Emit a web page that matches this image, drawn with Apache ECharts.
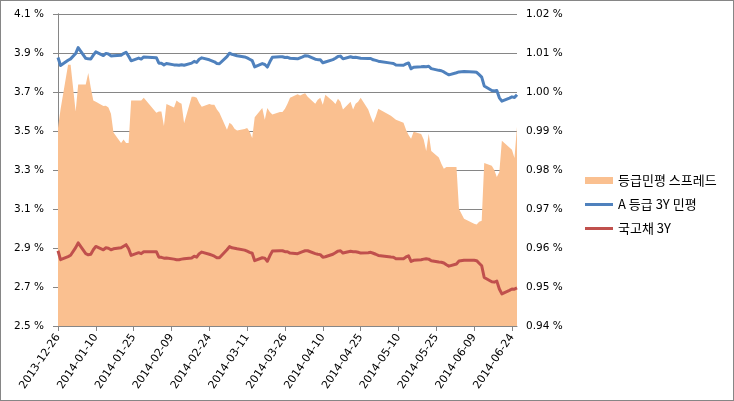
<!DOCTYPE html>
<html><head><meta charset="utf-8">
<script src="https://cdn.jsdelivr.net/npm/echarts@6/dist/echarts.min.js"></script>
<style>
html,body{margin:0;padding:0;background:#fff}
#c{position:absolute;left:0;top:0;width:734px;height:401px}
#b{position:absolute;left:0;top:0;width:734px;height:401px;box-sizing:border-box;border:1px solid #868686;pointer-events:none}
</style>
</head><body><div id="c"></div><div id="b"></div>
<script>
const dates = [
'2013-12-26','2013-12-27','2013-12-30','2013-12-31',
'2014-01-02','2014-01-03','2014-01-06','2014-01-07','2014-01-08','2014-01-09','2014-01-10','2014-01-13','2014-01-14','2014-01-15','2014-01-16','2014-01-17','2014-01-20','2014-01-21','2014-01-22','2014-01-23','2014-01-24','2014-01-27','2014-01-28','2014-01-29',
'2014-02-03','2014-02-04','2014-02-05','2014-02-06','2014-02-07','2014-02-10','2014-02-11','2014-02-12','2014-02-13','2014-02-14','2014-02-17','2014-02-18','2014-02-19','2014-02-20','2014-02-21','2014-02-24','2014-02-25','2014-02-26','2014-02-27','2014-02-28',
'2014-03-03','2014-03-04','2014-03-05','2014-03-06','2014-03-07','2014-03-10','2014-03-11','2014-03-12','2014-03-13','2014-03-14','2014-03-17','2014-03-18','2014-03-19','2014-03-20','2014-03-21','2014-03-24','2014-03-25','2014-03-26','2014-03-27','2014-03-28','2014-03-31',
'2014-04-01','2014-04-02','2014-04-03','2014-04-04','2014-04-07','2014-04-08','2014-04-09','2014-04-10','2014-04-11','2014-04-14','2014-04-15','2014-04-16','2014-04-17','2014-04-18','2014-04-21','2014-04-22','2014-04-23','2014-04-24','2014-04-25','2014-04-28','2014-04-29','2014-04-30',
'2014-05-01','2014-05-02','2014-05-07','2014-05-08','2014-05-09','2014-05-12','2014-05-13','2014-05-14','2014-05-15','2014-05-16','2014-05-19','2014-05-20','2014-05-21','2014-05-22','2014-05-23','2014-05-26','2014-05-27','2014-05-28','2014-05-29','2014-05-30',
'2014-06-02','2014-06-03','2014-06-05','2014-06-09','2014-06-10','2014-06-11','2014-06-12','2014-06-13','2014-06-16','2014-06-17','2014-06-18','2014-06-19','2014-06-20','2014-06-23','2014-06-24','2014-06-25','2014-06-26'
];
// 등급민평 스프레드 (right axis, %)
const spread = [
0.9908,0.9955,1.0070,1.0070,
0.9950,1.0019,1.0019,1.0049,1.0011,0.9978,0.9975,0.9964,0.9965,0.9960,0.9944,0.9896,0.9869,0.9878,0.9869,0.9869,0.9978,0.9978,0.9978,0.9985,
0.9947,0.9950,0.9950,0.9913,0.9969,0.9960,0.9978,0.9973,0.9970,0.9920,0.9988,0.9988,0.9985,0.9972,0.9962,0.9969,0.9967,0.9967,0.9955,0.9947,
0.9903,0.9921,0.9916,0.9906,0.9901,0.9905,0.9908,0.9898,0.9882,0.9935,0.9959,0.9929,0.9959,0.9949,0.9942,0.9949,0.9949,0.9957,0.9970,0.9985,0.9994,
0.9991,0.9994,0.9997,0.9988,0.9970,0.9980,0.9985,0.9967,0.9993,0.9976,0.9969,0.9983,0.9975,0.9955,0.9975,0.9955,0.9970,0.9975,0.9985,0.9955,0.9937,0.9921,
0.9937,0.9957,0.9939,0.9934,0.9929,0.9921,0.9903,0.9890,0.9880,0.9898,0.9892,0.9878,0.9849,0.9893,0.9849,0.9832,0.9816,0.9803,0.9808,0.9808,
0.9808,0.9700,0.9675,0.9662,0.9660,0.9667,0.9670,0.9818,0.9811,0.9800,0.9782,0.9795,0.9875,0.9858,0.9852,0.9831,0.9911
];
// A 등급 3Y 민평 (left axis, %)
const aRating3Y = [
3.877,3.836,3.863,3.870,
3.897,3.928,3.873,3.870,3.869,3.889,3.906,3.887,3.898,3.895,3.885,3.886,3.888,3.897,3.904,3.883,3.860,3.874,3.869,3.880,
3.876,3.848,3.847,3.839,3.846,3.839,3.838,3.837,3.840,3.837,3.848,3.857,3.852,3.868,3.875,3.865,3.860,3.855,3.846,3.845,
3.881,3.899,3.893,3.890,3.886,3.880,3.875,3.868,3.861,3.829,3.846,3.841,3.828,3.855,3.878,3.881,3.881,3.877,3.878,3.873,3.870,
3.875,3.880,3.886,3.885,3.868,3.866,3.865,3.850,3.854,3.866,3.873,3.882,3.884,3.870,3.881,3.877,3.878,3.876,3.873,3.872,3.872,3.865,
3.862,3.858,3.848,3.846,3.838,3.837,3.844,3.849,3.819,3.827,3.829,3.831,3.830,3.832,3.820,3.811,3.809,3.803,3.795,3.788,
3.799,3.803,3.805,3.803,3.801,3.789,3.776,3.731,3.708,3.705,3.708,3.670,3.653,3.669,3.675,3.672,3.686
];
// 국고채 3Y (left axis, %)
const ktb3Y = [
2.886,2.840,2.856,2.863,
2.902,2.926,2.871,2.865,2.868,2.891,2.908,2.891,2.901,2.899,2.891,2.896,2.901,2.909,2.917,2.896,2.862,2.876,2.871,2.881,
2.881,2.853,2.852,2.848,2.849,2.843,2.840,2.840,2.843,2.845,2.849,2.858,2.853,2.871,2.879,2.868,2.863,2.858,2.850,2.850,
2.891,2.907,2.901,2.899,2.896,2.889,2.884,2.878,2.873,2.835,2.850,2.848,2.832,2.860,2.884,2.886,2.886,2.881,2.881,2.874,2.871,
2.876,2.881,2.886,2.886,2.871,2.868,2.866,2.853,2.855,2.868,2.876,2.884,2.886,2.874,2.883,2.881,2.881,2.878,2.874,2.876,2.878,2.873,
2.868,2.862,2.854,2.853,2.845,2.845,2.854,2.860,2.831,2.837,2.840,2.843,2.845,2.843,2.835,2.828,2.827,2.823,2.814,2.807,
2.818,2.833,2.837,2.837,2.835,2.822,2.809,2.749,2.727,2.725,2.730,2.690,2.665,2.683,2.690,2.689,2.695
];
const xTickLabels = ['2013-12-26','2014-01-10','2014-01-25','2014-02-09','2014-02-24','2014-03-11','2014-03-26','2014-04-10','2014-04-25','2014-05-10','2014-05-25','2014-06-09','2014-06-24'];
const leftTicks = [2.5,2.7,2.9,3.1,3.3,3.5,3.7,3.9,4.1];
const rightTicks = [0.94,0.95,0.96,0.97,0.98,0.99,1.00,1.01,1.02];
const seriesNames = ['등급민평 스프레드','A 등급 3Y 민평','국고채 3Y'];

const DAY = 864e5;
const base = Date.parse(xTickLabels[0]);
const dayOf = s => Math.round((Date.parse(s) - base) / DAY);
const labelOf = d => new Date(base + Math.round(d) * DAY).toISOString().slice(0, 10);
const pairs = arr => arr.map((v, i) => [dayOf(dates[i]), v]);

const grey = '#868686';
const numFont = 'DejaVu Sans';
const lineIcon = 'path://M0,0L28,0L28,3L0,3Z';
const chart = echarts.init(document.getElementById('c'), null, {renderer: 'canvas'});
chart.setOption({
  animation: false,
  backgroundColor: '#fff',
  grid: {left: 58, right: 217, top: 14, bottom: 75, containLabel: false, outerBoundsMode: 'none'},
  legend: {
    orient: 'vertical', left: 580, top: 169,
    itemWidth: 28, itemHeight: 7, itemGap: 11,
    symbolKeepAspect: true,
    textStyle: {fontFamily: 'Noto Sans CJK KR', fontSize: 13, color: '#000', lineHeight: 13},
    data: [
      {name: seriesNames[0], icon: 'rect'},
      {name: seriesNames[1], icon: lineIcon, itemStyle: {color: '#4F81BD', borderWidth: 0}, lineStyle: {width: 0}},
      {name: seriesNames[2], icon: lineIcon, itemStyle: {color: '#C0504D', borderWidth: 0}, lineStyle: {width: 0}}
    ]
  },
  xAxis: {
    type: 'value',
    min: 0,
    max: dayOf(dates[dates.length - 1]),
    interval: dayOf(xTickLabels[1]) - dayOf(xTickLabels[0]),
    axisLine: {show: true, onZero: false, lineStyle: {color: grey, width: 1}},
    axisTick: {show: true, inside: false, length: 5, lineStyle: {color: grey}},
    splitLine: {show: false},
    axisLabel: {
      rotate: 56, margin: 9, color: '#000', fontFamily: numFont, fontSize: 11,
      showMaxLabel: false, showMinLabel: true, hideOverlap: false,
      formatter: v => { const s = labelOf(v); return xTickLabels.indexOf(s) >= 0 ? s : ''; }
    }
  },
  yAxis: [
    {
      type: 'value', position: 'right',
      min: rightTicks[0], max: rightTicks[rightTicks.length - 1],
      interval: 0.01,
      axisLine: {show: true, lineStyle: {color: grey, width: 1}},
      axisTick: {show: true, inside: false, length: 5, lineStyle: {color: grey}},
      splitLine: {show: true, lineStyle: {color: grey, width: 1}},
      axisLabel: {margin: 9, color: '#000', fontFamily: numFont, fontSize: 10.5,
        formatter: v => v.toFixed(2) + ' %'}
    },
    {
      type: 'value', position: 'left',
      min: leftTicks[0], max: leftTicks[leftTicks.length - 1],
      alignTicks: true,
      axisLine: {show: true, lineStyle: {color: grey, width: 1}},
      axisTick: {show: true, inside: false, length: 5, lineStyle: {color: grey}},
      splitLine: {show: false},
      axisLabel: {margin: 14, color: '#000', fontFamily: numFont, fontSize: 10.5,
        formatter: v => v.toFixed(1) + ' %'}
    }
  ],
  series: [
    {
      name: seriesNames[0], type: 'line', yAxisIndex: 0, data: pairs(spread),
      symbol: 'none', showSymbol: false, z: 1,
      itemStyle: {color: '#FAC090'},
      lineStyle: {width: 0, color: '#FAC090'},
      areaStyle: {color: '#FAC090', opacity: 1, origin: 'start'}
    },
    {
      name: seriesNames[1], type: 'line', yAxisIndex: 1, data: pairs(aRating3Y),
      symbol: 'none', showSymbol: false, z: 3,
      itemStyle: {color: '#4F81BD'},
      lineStyle: {width: 3, color: '#4F81BD', join: 'round'}
    },
    {
      name: seriesNames[2], type: 'line', yAxisIndex: 1, data: pairs(ktb3Y),
      symbol: 'none', showSymbol: false, z: 3,
      itemStyle: {color: '#C0504D'},
      lineStyle: {width: 3, color: '#C0504D', join: 'round'}
    }
  ]
});
</script>
</body></html>
